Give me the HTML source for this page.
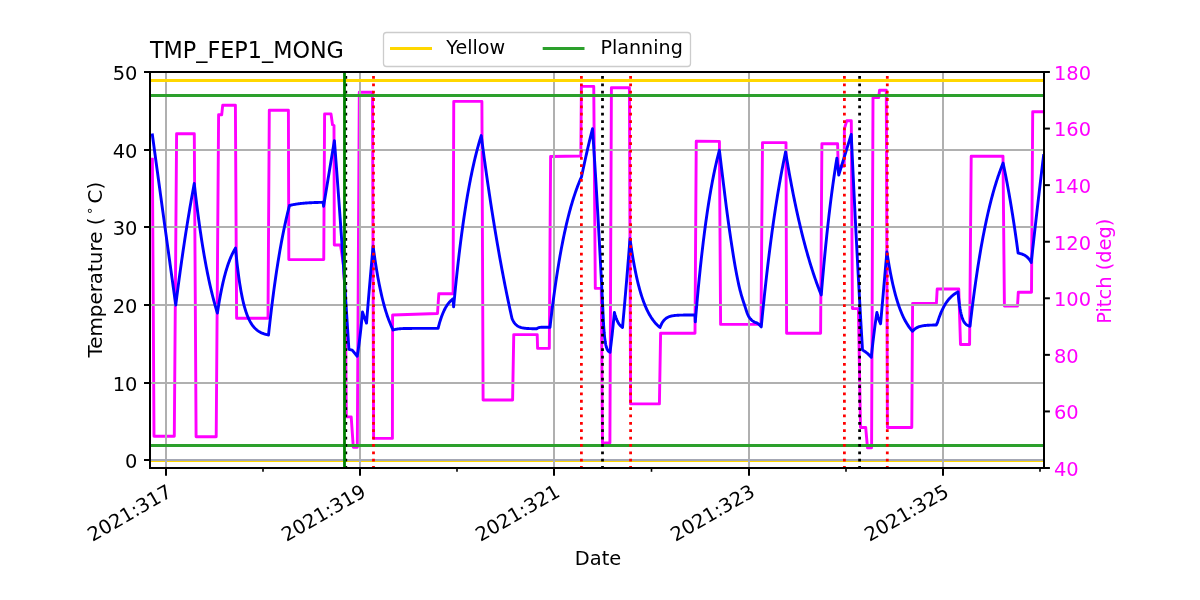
<!DOCTYPE html><html><head><meta charset="utf-8"><title>TMP_FEP1_MONG</title><style>html,body{margin:0;padding:0;background:#fff;overflow:hidden;}svg{display:block;will-change:transform;}text{font-family:'DejaVu Sans', 'Liberation Sans', sans-serif;}</style></head><body>
<svg width="1200" height="600" viewBox="0 0 1200 600">
<rect x="0" y="0" width="1200" height="600" fill="#fff"/>
<defs><clipPath id="ax"><rect x="150" y="72" width="894" height="396"/></clipPath></defs>
<g clip-path="url(#ax)">
<polyline points="152.40,159.30 154.00,436.20 174.30,436.20 176.60,133.80 194.30,133.80 196.10,436.70 216.20,436.70 218.60,114.80 221.70,114.80 222.70,105.30 235.40,105.30 236.60,318.30 268.00,318.30 269.30,110.30 288.40,110.30 288.80,259.60 323.75,259.60 324.60,113.90 331.00,113.90 332.50,124.80 334.00,125.50 334.30,245.00 340.50,245.00 343.50,265.00 345.40,300.00 346.30,416.90 351.20,416.90 353.30,447.20 357.30,447.20 359.30,92.20 372.50,92.20 373.60,438.40 392.40,438.40 392.60,315.00 437.50,313.50 438.80,293.80 453.10,293.80 453.75,101.40 481.90,101.40 483.10,400.00 512.60,400.00 513.75,334.60 537.20,334.60 537.60,348.40 549.30,348.40 550.60,156.50 580.80,156.00 581.40,86.40 593.75,86.40 595.30,288.40 601.30,288.40 602.50,443.00 609.90,443.00 611.40,87.80 629.40,87.80 630.60,403.90 659.40,403.90 660.60,333.30 695.00,333.30 696.25,141.30 719.40,141.40 720.60,324.40 761.00,324.40 762.50,142.60 786.00,142.60 786.60,333.30 820.60,333.30 821.90,143.75 837.60,143.75 838.20,166.20 844.20,166.20 844.40,128.70 846.80,120.70 851.30,120.70 852.40,308.60 858.40,308.60 860.50,427.50 865.70,427.50 867.50,447.80 871.60,447.80 873.00,97.50 878.75,97.50 879.50,90.30 886.30,90.30 887.40,427.50 911.80,427.50 912.60,303.40 936.40,303.40 937.20,289.00 958.75,289.00 960.50,344.50 969.60,344.50 971.20,156.25 1003.00,156.25 1004.40,306.10 1017.50,306.10 1018.30,292.20 1031.50,292.20 1032.70,111.80 1046.00,111.80" fill="none" stroke="#ff00ff" stroke-width="2.9" stroke-linejoin="round" stroke-linecap="square"/>
<line x1="150" y1="460.5" x2="1044" y2="460.5" stroke="#ffd700" stroke-width="3"/>
<line x1="166" y1="72" x2="166" y2="468" stroke="#b0b0b0" stroke-width="2"/>
<line x1="360" y1="72" x2="360" y2="468" stroke="#b0b0b0" stroke-width="2"/>
<line x1="554" y1="72" x2="554" y2="468" stroke="#b0b0b0" stroke-width="2"/>
<line x1="749" y1="72" x2="749" y2="468" stroke="#b0b0b0" stroke-width="2"/>
<line x1="943" y1="72" x2="943" y2="468" stroke="#b0b0b0" stroke-width="2"/>
<line x1="150" y1="460" x2="1044" y2="460" stroke="#a4a7b4" stroke-width="2"/>
<line x1="150" y1="383" x2="1044" y2="383" stroke="#b0b0b0" stroke-width="2"/>
<line x1="150" y1="305" x2="1044" y2="305" stroke="#b0b0b0" stroke-width="2"/>
<line x1="150" y1="227" x2="1044" y2="227" stroke="#b0b0b0" stroke-width="2"/>
<line x1="150" y1="150" x2="1044" y2="150" stroke="#b0b0b0" stroke-width="2"/>
<line x1="150" y1="80.4" x2="1044" y2="80.4" stroke="#ffd700" stroke-width="3"/>
<line x1="150" y1="95.4" x2="1044" y2="95.4" stroke="#2ca02c" stroke-width="3"/>
<line x1="150" y1="445.5" x2="1044" y2="445.5" stroke="#2ca02c" stroke-width="3"/>
<polyline points="152.40,135.00 152.91,138.74 153.42,142.48 153.92,146.22 154.43,149.95 154.94,153.68 155.45,157.42 155.95,161.14 156.46,164.87 156.97,168.60 157.48,172.32 157.98,176.04 158.49,179.76 159.00,183.48 159.51,187.19 160.01,190.90 160.52,194.61 161.03,198.32 161.54,202.03 162.04,205.73 162.55,209.44 163.06,213.14 163.57,216.83 164.07,220.53 164.58,224.23 165.09,227.92 165.60,231.61 166.11,235.30 166.61,238.98 167.12,242.67 167.63,246.35 168.14,250.03 168.64,253.71 169.15,257.39 169.66,261.06 170.17,264.73 170.67,268.40 171.18,272.07 171.69,275.74 172.20,279.40 172.70,283.07 173.21,286.73 173.72,290.39 174.23,294.04 174.73,297.70 175.24,301.35 175.75,305.00 176.25,301.04 176.75,297.12 177.25,293.24 177.75,289.40 178.25,285.61 178.75,281.85 179.25,278.14 179.75,274.47 180.25,270.83 180.75,267.24 181.25,263.68 181.75,260.16 182.25,256.68 182.75,253.24 183.25,249.83 183.75,246.46 184.25,243.13 184.75,239.83 185.25,236.57 185.75,233.34 186.25,230.15 186.75,226.99 187.25,223.87 187.75,220.78 188.25,217.72 188.75,214.70 189.25,211.70 189.75,208.74 190.25,205.82 190.75,202.92 191.25,200.06 191.75,197.22 192.25,194.42 192.75,191.64 193.25,188.90 193.75,186.19 194.25,183.50 194.75,187.95 195.26,192.31 195.76,196.57 196.26,200.74 196.77,204.81 197.27,208.79 197.77,212.69 198.28,216.50 198.78,220.23 199.28,223.87 199.79,227.44 200.29,230.92 200.79,234.33 201.30,237.67 201.80,240.93 202.30,244.11 202.81,247.23 203.31,250.28 203.81,253.26 204.32,256.18 204.82,259.03 205.32,261.82 205.82,264.55 206.33,267.22 206.83,269.83 207.33,272.38 207.84,274.87 208.34,277.32 208.84,279.70 209.35,282.04 209.85,284.32 210.35,286.55 210.86,288.73 211.36,290.87 211.86,292.96 212.37,295.00 212.87,297.00 213.37,298.95 213.88,300.86 214.38,302.73 214.88,304.55 215.39,306.34 215.89,308.09 216.39,309.80 216.90,311.47 217.40,313.10 217.90,309.78 218.41,306.59 218.91,303.52 219.41,300.57 219.91,297.73 220.42,295.01 220.92,292.39 221.42,289.87 221.93,287.45 222.43,285.12 222.93,282.89 223.43,280.74 223.94,278.67 224.44,276.69 224.94,274.78 225.44,272.95 225.95,271.18 226.45,269.49 226.95,267.86 227.46,266.29 227.96,264.79 228.46,263.34 228.96,261.95 229.47,260.62 229.97,259.33 230.47,258.10 230.97,256.91 231.48,255.77 231.98,254.67 232.48,253.62 232.99,252.60 233.49,251.63 233.99,250.70 234.49,249.80 235.00,248.93 235.50,248.10 236.00,253.31 236.50,258.21 237.00,262.82 237.50,267.16 238.00,271.24 238.50,275.09 239.00,278.70 239.50,282.11 240.00,285.32 240.50,288.33 241.00,291.17 241.50,293.85 242.00,296.36 242.50,298.73 243.00,300.96 243.50,303.05 244.00,305.03 244.50,306.89 245.00,308.63 245.50,310.28 246.00,311.83 246.50,313.29 247.00,314.66 247.50,315.95 248.00,317.17 248.50,318.31 249.00,319.39 249.50,320.40 250.00,321.35 250.50,322.25 251.00,323.10 251.50,323.89 252.00,324.64 252.50,325.35 253.00,326.01 253.50,326.63 254.00,327.22 254.50,327.77 255.00,328.29 255.50,328.78 256.00,329.24 256.50,329.68 257.00,330.09 257.50,330.47 258.00,330.83 258.50,331.17 259.00,331.49 259.50,331.79 260.00,332.08 260.50,332.35 261.00,332.60 261.50,332.83 262.00,333.06 262.50,333.27 263.00,333.46 263.50,333.65 264.00,333.82 264.50,333.99 265.00,334.14 265.50,334.29 266.00,334.43 266.50,334.56 267.00,334.68 267.50,334.79 268.00,334.90 268.50,335.00 269.00,330.37 269.50,325.85 270.00,321.41 270.50,317.07 271.00,312.83 271.50,308.67 272.00,304.60 272.50,300.62 273.00,296.72 273.50,292.91 274.00,289.17 274.50,285.52 275.00,281.94 275.50,278.44 276.00,275.01 276.50,271.66 277.00,268.37 277.50,265.16 278.00,262.02 278.50,258.94 279.00,255.92 279.50,252.97 280.00,250.08 280.50,247.26 281.00,244.49 281.50,241.78 282.00,239.13 282.50,236.54 283.00,234.00 283.50,231.52 284.00,229.08 284.50,226.70 285.00,224.37 285.50,222.09 286.00,219.86 286.50,217.67 287.00,215.53 287.50,213.44 288.00,211.39 288.50,209.39 289.00,207.42 289.50,205.50 290.00,205.37 290.50,205.25 291.00,205.13 291.51,205.01 292.01,204.90 292.51,204.80 293.01,204.69 293.51,204.59 294.01,204.50 294.51,204.41 295.02,204.32 295.52,204.23 296.02,204.15 296.52,204.07 297.02,204.00 297.52,203.92 298.03,203.85 298.53,203.79 299.03,203.72 299.53,203.66 300.03,203.60 300.53,203.54 301.03,203.48 301.54,203.43 302.04,203.38 302.54,203.33 303.04,203.28 303.54,203.23 304.04,203.19 304.54,203.14 305.05,203.10 305.55,203.06 306.05,203.02 306.55,202.99 307.05,202.95 307.55,202.92 308.06,202.88 308.56,202.85 309.06,202.82 309.56,202.79 310.06,202.76 310.56,202.74 311.06,202.71 311.57,202.68 312.07,202.66 312.57,202.64 313.07,202.61 313.57,202.59 314.07,202.57 314.57,202.55 315.08,202.53 315.58,202.51 316.08,202.49 316.58,202.48 317.08,202.46 317.58,202.44 318.09,202.43 318.59,202.41 319.09,202.40 319.59,202.38 320.09,202.37 320.59,202.36 321.09,202.35 321.60,202.33 322.10,202.32 322.60,202.31 323.10,202.30 323.60,206.30 334.40,140.60 334.90,147.13 335.40,153.70 335.90,160.32 336.40,166.98 336.90,173.69 337.40,180.44 337.90,187.24 338.40,194.09 338.90,200.99 339.40,207.94 339.90,214.93 340.40,221.97 340.90,229.06 341.40,236.20 341.90,243.38 342.40,250.62 342.90,257.91 343.40,265.25 343.90,272.64 344.40,280.08 344.90,287.57 345.40,295.11 345.90,302.71 346.40,310.36 346.90,318.06 347.40,325.81 347.90,333.62 348.40,341.48 348.90,349.40 352.20,350.20 357.20,356.25 357.73,352.96 358.26,349.45 358.79,345.72 359.32,341.74 359.85,337.51 360.38,333.01 360.91,328.22 361.44,323.11 361.97,317.68 362.50,311.90 363.00,313.43 363.50,314.91 364.00,316.36 364.50,317.78 365.00,319.16 365.50,320.51 366.00,321.82 366.50,323.10 367.01,316.84 367.52,310.64 368.02,304.50 368.53,298.42 369.04,292.40 369.55,286.44 370.05,280.53 370.56,274.68 371.07,268.88 371.58,263.14 372.08,257.46 372.59,251.83 373.10,246.25 373.60,249.97 374.10,253.56 374.60,257.04 375.10,260.41 375.60,263.66 376.10,266.81 376.60,269.86 377.10,272.80 377.60,275.66 378.10,278.41 378.60,281.08 379.10,283.67 379.60,286.16 380.10,288.58 380.60,290.92 381.10,293.18 381.60,295.37 382.10,297.48 382.60,299.53 383.10,301.51 383.60,303.43 384.10,305.28 384.60,307.07 385.10,308.81 385.60,310.49 386.10,312.11 386.60,313.68 387.10,315.20 387.60,316.67 388.10,318.09 388.60,319.47 389.10,320.80 389.60,322.09 390.10,323.33 390.60,324.54 391.10,325.70 391.60,326.83 392.10,327.92 392.60,328.98 393.10,330.00 393.60,329.83 394.10,329.68 394.60,329.55 395.10,329.43 395.60,329.32 396.10,329.22 396.60,329.14 397.10,329.06 397.60,328.99 398.10,328.93 398.60,328.87 399.10,328.82 399.60,328.78 400.10,328.74 400.60,328.70 401.10,328.67 401.60,328.64 402.10,328.62 402.60,328.59 403.10,328.57 403.60,328.56 404.10,328.54 404.60,328.52 405.10,328.51 405.60,328.50 406.10,328.49 406.60,328.48 407.10,328.47 407.60,328.46 408.10,328.46 408.60,328.45 409.10,328.45 409.60,328.44 410.10,328.44 410.60,328.43 411.10,328.43 411.60,328.43 412.10,328.42 412.60,328.42 413.10,328.42 413.60,328.42 414.10,328.41 414.60,328.41 415.10,328.41 415.60,328.41 416.10,328.41 416.60,328.41 417.10,328.41 417.60,328.41 418.10,328.41 418.60,328.41 419.10,328.40 419.60,328.40 420.10,328.40 420.60,328.40 421.10,328.40 421.60,328.40 422.10,328.40 422.60,328.40 423.10,328.40 423.60,328.40 424.10,328.40 424.60,328.40 425.10,328.40 425.60,328.40 426.10,328.40 426.60,328.40 427.10,328.40 427.60,328.40 428.10,328.40 428.60,328.40 429.10,328.40 429.60,328.40 430.10,328.40 430.60,328.40 431.10,328.40 431.60,328.40 432.10,328.40 432.60,328.40 433.10,328.40 433.60,328.40 434.10,328.40 434.60,328.40 435.10,328.40 435.60,328.40 436.10,328.40 436.60,328.40 437.10,328.40 437.60,328.40 438.10,328.40 438.60,326.40 439.10,324.51 439.60,322.73 440.10,321.04 440.60,319.45 441.10,317.94 441.60,316.52 442.10,315.18 442.60,313.91 443.10,312.71 443.60,311.57 444.10,310.50 444.60,309.49 445.10,308.53 445.60,307.63 446.10,306.77 446.60,305.97 447.10,305.20 447.60,304.48 448.10,303.80 448.60,303.16 449.10,302.55 449.60,301.98 450.10,301.43 450.60,300.92 451.10,300.44 451.60,299.98 452.10,299.55 452.60,299.14 453.10,298.75 453.60,306.90 454.10,301.56 454.61,296.33 455.11,291.22 455.61,286.23 456.11,281.34 456.62,276.56 457.12,271.88 457.62,267.31 458.12,262.84 458.63,258.47 459.13,254.19 459.63,250.01 460.14,245.92 460.64,241.92 461.14,238.01 461.64,234.19 462.15,230.45 462.65,226.79 463.15,223.21 463.65,219.71 464.16,216.29 464.66,212.94 465.16,209.67 465.67,206.47 466.17,203.34 466.67,200.28 467.17,197.28 467.68,194.35 468.18,191.49 468.68,188.69 469.18,185.95 469.69,183.27 470.19,180.65 470.69,178.09 471.20,175.59 471.70,173.14 472.20,170.74 472.70,168.40 473.21,166.10 473.71,163.86 474.21,161.67 474.71,159.53 475.22,157.43 475.72,155.38 476.22,153.38 476.73,151.41 477.23,149.50 477.73,147.62 478.23,145.79 478.74,143.99 479.24,142.24 479.74,140.52 480.24,138.85 480.75,137.20 481.25,135.60 481.75,139.48 482.26,143.33 482.76,147.14 483.27,150.91 483.77,154.66 484.27,158.37 484.78,162.04 485.28,165.69 485.79,169.30 486.29,172.88 486.80,176.42 487.30,179.94 487.80,183.42 488.31,186.87 488.81,190.29 489.32,193.68 489.82,197.04 490.32,200.37 490.83,203.67 491.33,206.94 491.84,210.18 492.34,213.39 492.84,216.57 493.35,219.72 493.85,222.85 494.36,225.95 494.86,229.02 495.36,232.06 495.87,235.07 496.37,238.06 496.88,241.02 497.38,243.96 497.89,246.87 498.39,249.75 498.89,252.60 499.40,255.43 499.90,258.24 500.41,261.02 500.91,263.77 501.41,266.50 501.92,269.21 502.42,271.89 502.93,274.55 503.43,277.18 503.93,279.79 504.44,282.38 504.94,284.94 505.45,287.48 505.95,290.00 506.45,292.49 506.96,294.96 507.46,297.41 507.97,299.84 508.47,302.25 508.98,304.63 509.48,307.00 509.98,309.34 510.49,311.66 510.99,313.96 511.50,316.24 512.00,318.50 512.51,319.64 513.02,320.66 513.52,321.56 514.03,322.36 514.54,323.08 515.05,323.71 515.56,324.28 516.07,324.78 516.57,325.22 517.08,325.62 517.59,325.97 518.10,326.28 518.61,326.56 519.11,326.81 519.62,327.03 520.13,327.22 520.64,327.40 521.15,327.55 521.66,327.69 522.16,327.81 522.67,327.92 523.18,328.01 523.69,328.10 524.20,328.17 524.70,328.24 525.21,328.30 525.72,328.36 526.23,328.40 526.74,328.44 527.24,328.48 527.75,328.52 528.26,328.55 528.77,328.57 529.28,328.59 529.79,328.62 530.29,328.63 530.80,328.65 531.31,328.67 531.82,328.68 532.33,328.69 532.83,328.70 533.34,328.71 533.85,328.72 534.36,328.72 534.87,328.73 535.38,328.74 535.88,328.74 536.39,328.75 536.90,328.75 537.40,328.27 537.91,327.95 538.41,327.72 538.92,327.57 539.42,327.47 539.92,327.40 540.43,327.35 540.93,327.32 541.43,327.30 541.94,327.28 542.44,327.27 542.95,327.26 543.45,327.26 543.95,327.26 544.46,327.25 544.96,327.25 545.47,327.25 545.97,327.25 546.47,327.25 546.98,327.25 547.48,327.25 547.98,327.25 548.49,327.25 548.99,327.25 549.50,327.25 550.00,327.25 550.50,322.91 551.00,318.66 551.50,314.50 552.00,310.43 552.50,306.45 553.00,302.55 553.50,298.74 554.00,295.01 554.50,291.36 555.00,287.79 555.50,284.30 556.00,280.88 556.50,277.54 557.00,274.27 557.50,271.07 558.00,267.94 558.50,264.87 559.00,261.88 559.50,258.94 560.00,256.07 560.50,253.27 561.00,250.52 561.50,247.83 562.00,245.20 562.50,242.63 563.00,240.11 563.50,237.65 564.00,235.24 564.50,232.88 565.00,230.57 565.50,228.32 566.00,226.11 566.50,223.95 567.00,221.83 567.50,219.76 568.00,217.74 568.50,215.76 569.00,213.82 569.50,211.93 570.00,210.07 570.50,208.26 571.00,206.48 571.50,204.75 572.00,203.05 572.50,201.38 573.00,199.76 573.50,198.16 574.00,196.61 574.50,195.08 575.00,193.59 575.50,192.13 576.00,190.71 576.50,189.31 577.00,187.94 577.50,186.61 578.00,185.30 578.50,184.02 579.00,182.77 579.50,181.54 580.00,180.34 580.50,179.17 581.00,178.02 581.50,176.90 582.00,174.50 582.50,172.11 583.00,169.75 583.50,167.41 584.00,165.10 584.50,162.80 585.00,160.52 585.50,158.27 586.00,156.03 586.50,153.82 587.00,151.62 587.50,149.45 588.00,147.29 588.50,145.16 589.00,143.04 589.50,140.94 590.00,138.86 590.50,136.80 591.00,134.76 591.50,132.74 592.00,130.74 592.50,128.75 593.00,136.26 593.51,143.89 594.01,151.64 594.52,159.52 595.02,167.52 595.53,175.65 596.03,183.92 596.54,192.31 597.04,200.84 597.55,209.51 598.05,218.31 598.55,227.26 599.06,236.35 599.56,245.58 600.07,254.97 600.57,264.50 601.08,274.19 601.58,284.03 602.09,294.03 602.59,304.19 603.10,314.51 603.60,325.00 604.13,332.24 604.67,337.61 605.20,341.60 605.73,344.56 606.27,346.75 606.80,348.39 607.33,349.60 607.87,350.50 608.40,351.16 608.93,351.66 609.47,352.03 610.00,352.30 610.55,348.00 611.10,343.53 611.65,338.87 612.20,334.01 612.75,328.96 613.30,323.69 613.85,318.21 614.40,312.50 614.91,314.38 615.41,316.07 615.92,317.58 616.42,318.93 616.93,320.15 617.44,321.24 617.94,322.21 618.45,323.09 618.96,323.87 619.46,324.57 619.97,325.20 620.48,325.77 620.98,326.27 621.49,326.73 621.99,327.14 622.50,327.50 623.00,321.99 623.50,316.42 624.00,310.80 624.50,305.12 625.00,299.38 625.50,293.59 626.00,287.74 626.50,281.83 627.00,275.85 627.50,269.82 628.00,263.73 628.50,257.58 629.00,251.37 629.50,245.09 630.00,238.75 630.50,242.34 631.00,245.81 631.50,249.15 632.00,252.37 632.50,255.47 633.00,258.46 633.50,261.34 634.00,264.12 634.50,266.80 635.00,269.39 635.50,271.88 636.00,274.28 636.50,276.59 637.00,278.82 637.50,280.97 638.00,283.05 638.50,285.05 639.00,286.97 639.50,288.83 640.00,290.62 640.50,292.35 641.00,294.01 641.50,295.61 642.00,297.16 642.50,298.65 643.00,300.09 643.50,301.47 644.00,302.81 644.50,304.09 645.00,305.34 645.50,306.53 646.00,307.68 646.50,308.80 647.00,309.87 647.50,310.90 648.00,311.90 648.50,312.86 649.00,313.78 649.50,314.67 650.00,315.53 650.50,316.36 651.00,317.16 651.50,317.93 652.00,318.67 652.50,319.39 653.00,320.08 653.50,320.75 654.00,321.39 654.50,322.01 655.00,322.60 655.50,323.18 656.00,323.73 656.50,324.26 657.00,324.78 657.50,325.27 658.00,325.75 658.50,326.21 659.00,326.66 659.50,327.09 660.00,327.50 660.50,326.21 661.00,325.06 661.50,324.02 662.00,323.09 662.50,322.26 663.00,321.51 663.50,320.84 664.00,320.24 664.50,319.70 665.00,319.22 665.50,318.78 666.00,318.39 666.50,318.04 667.00,317.73 667.50,317.45 668.00,317.20 668.50,316.97 669.00,316.77 669.50,316.58 670.00,316.42 670.50,316.27 671.00,316.14 671.50,316.02 672.00,315.92 672.50,315.82 673.00,315.74 673.50,315.66 674.00,315.59 674.50,315.53 675.00,315.48 675.50,315.43 676.00,315.38 676.50,315.34 677.00,315.31 677.50,315.27 678.00,315.24 678.50,315.22 679.00,315.20 679.50,315.17 680.00,315.16 680.50,315.14 681.00,315.12 681.50,315.11 682.00,315.10 682.50,315.09 683.00,315.08 683.50,315.07 684.00,315.06 684.50,315.05 685.00,315.05 685.50,315.04 686.00,315.04 686.50,315.03 687.00,315.03 687.50,315.03 688.00,315.02 688.50,315.02 689.00,315.02 689.50,315.01 690.00,315.01 690.50,315.01 691.00,315.01 691.50,315.01 692.00,315.01 692.50,315.00 693.00,315.00 693.50,315.00 694.00,315.00 694.50,315.00 695.00,315.00 695.30,321.90 695.80,315.89 696.30,310.03 696.81,304.31 697.31,298.73 697.81,293.28 698.31,287.97 698.81,282.78 699.32,277.72 699.82,272.78 700.32,267.96 700.82,263.26 701.32,258.67 701.83,254.19 702.33,249.82 702.83,245.56 703.33,241.40 703.84,237.34 704.34,233.37 704.84,229.51 705.34,225.73 705.84,222.05 706.35,218.46 706.85,214.95 707.35,211.53 707.85,208.19 708.35,204.94 708.86,201.76 709.36,198.66 709.86,195.63 710.36,192.68 710.86,189.79 711.37,186.98 711.87,184.24 712.37,181.56 712.87,178.94 713.38,176.39 713.88,173.91 714.38,171.48 714.88,169.11 715.38,166.80 715.89,164.54 716.39,162.34 716.89,160.19 717.39,158.09 717.89,156.05 718.40,154.05 718.90,152.10 719.40,150.20 719.90,154.45 720.41,158.68 720.91,162.89 721.42,167.07 721.92,171.24 722.43,175.38 722.93,179.49 723.43,183.58 723.94,187.68 724.44,191.78 724.95,195.86 725.45,199.92 725.95,203.93 726.46,207.89 726.96,211.77 727.47,215.56 727.97,219.27 728.48,222.93 728.98,226.53 729.48,230.07 729.99,233.56 730.49,237.00 731.00,240.38 731.50,243.70 732.01,246.98 732.51,250.24 733.01,253.47 733.52,256.65 734.02,259.76 734.53,262.80 735.03,265.74 735.53,268.56 736.04,271.27 736.54,273.93 737.05,276.52 737.55,279.05 738.06,281.49 738.56,283.85 739.06,286.11 739.57,288.26 740.07,290.29 740.58,292.21 741.08,294.05 741.59,295.82 742.09,297.52 742.59,299.16 743.10,300.75 743.60,302.31 744.11,303.83 744.61,305.33 745.12,306.86 745.62,308.43 746.12,309.98 746.63,311.49 747.13,312.93 747.64,314.25 748.14,315.43 748.64,316.43 749.15,317.21 749.65,317.90 750.16,318.53 750.66,319.10 751.17,319.63 751.67,320.10 752.17,320.54 752.68,320.93 753.18,321.29 753.69,321.61 754.19,321.89 754.70,322.12 755.20,322.33 755.70,322.52 756.21,322.72 756.71,322.92 757.22,323.15 757.72,323.43 758.22,323.75 758.73,324.15 759.23,324.61 759.74,325.13 760.24,325.69 760.75,326.28 761.25,326.90 761.76,321.65 762.26,316.48 762.77,311.40 763.28,306.40 763.79,301.49 764.29,296.66 764.80,291.91 765.31,287.23 765.82,282.63 766.32,278.11 766.83,273.67 767.34,269.29 767.84,264.99 768.35,260.76 768.86,256.60 769.37,252.51 769.87,248.49 770.38,244.53 770.89,240.64 771.40,236.82 771.90,233.05 772.41,229.35 772.92,225.71 773.42,222.13 773.93,218.61 774.44,215.15 774.95,211.74 775.45,208.39 775.96,205.10 776.47,201.86 776.98,198.67 777.48,195.54 777.99,192.46 778.50,189.43 779.01,186.45 779.51,183.52 780.02,180.63 780.53,177.80 781.03,175.01 781.54,172.27 782.05,169.57 782.56,166.92 783.06,164.31 783.57,161.74 784.08,159.22 784.59,156.74 785.09,154.30 785.60,151.90 786.10,154.94 786.60,157.94 787.11,160.90 787.61,163.82 788.11,166.71 788.61,169.56 789.11,172.38 789.62,175.15 790.12,177.90 790.62,180.61 791.12,183.28 791.63,185.93 792.13,188.54 792.63,191.11 793.13,193.66 793.63,196.17 794.14,198.65 794.64,201.10 795.14,203.51 795.64,205.90 796.14,208.26 796.65,210.58 797.15,212.88 797.65,215.15 798.15,217.39 798.65,219.61 799.16,221.79 799.66,223.95 800.16,226.08 800.66,228.18 801.17,230.26 801.67,232.31 802.17,234.33 802.67,236.33 803.17,238.30 803.68,240.25 804.18,242.18 804.68,244.08 805.18,245.96 805.68,247.81 806.19,249.64 806.69,251.44 807.19,253.23 807.69,254.99 808.20,256.73 808.70,258.44 809.20,260.14 809.70,261.81 810.20,263.47 810.71,265.10 811.21,266.71 811.71,268.30 812.21,269.87 812.71,271.42 813.22,272.96 813.72,274.47 814.22,275.96 814.72,277.44 815.22,278.89 815.73,280.33 816.23,281.75 816.73,283.15 817.23,284.54 817.74,285.90 818.24,287.25 818.74,288.59 819.24,289.90 819.74,291.20 820.25,292.48 820.75,293.75 821.25,295.00 821.75,288.93 822.26,282.99 822.76,277.19 823.27,271.51 823.77,265.97 824.28,260.54 824.78,255.24 825.29,250.06 825.79,244.99 826.30,240.03 826.80,235.19 827.31,230.45 827.81,225.82 828.32,221.29 828.82,216.87 829.33,212.54 829.83,208.31 830.34,204.17 830.84,200.13 831.35,196.18 831.85,192.31 832.36,188.53 832.86,184.84 833.37,181.22 833.87,177.69 834.38,174.24 834.88,170.87 835.39,167.57 835.89,164.34 836.40,161.18 836.90,158.10 838.75,175.00 851.25,134.40 851.76,145.54 852.27,156.54 852.78,167.40 853.30,178.13 853.81,188.73 854.32,199.19 854.83,209.53 855.34,219.74 855.85,229.81 856.36,239.77 856.88,249.60 857.39,259.31 857.90,268.90 858.41,278.36 858.92,287.72 859.43,296.95 859.94,306.07 860.45,315.08 860.97,323.97 861.48,332.76 861.99,341.43 862.50,350.00 863.02,350.30 863.54,350.62 864.05,350.95 864.57,351.29 865.09,351.65 865.61,352.02 866.12,352.41 866.64,352.81 867.16,353.23 867.68,353.67 868.19,354.13 868.71,354.60 869.23,355.10 869.75,355.61 870.26,356.15 870.78,356.72 871.30,357.30 871.81,352.40 872.32,347.68 872.83,343.14 873.34,338.77 873.85,334.57 874.35,330.53 874.86,326.64 875.37,322.90 875.88,319.30 876.39,315.83 876.90,312.50 877.43,314.73 877.96,316.71 878.49,318.46 879.01,320.03 879.54,321.42 880.07,322.65 880.60,323.75 881.12,317.69 881.65,311.65 882.17,305.62 882.70,299.60 883.23,293.59 883.75,287.60 884.27,281.62 884.80,275.65 885.33,269.69 885.85,263.75 886.38,257.82 886.90,251.90 887.40,255.20 887.90,258.38 888.41,261.45 888.91,264.42 889.41,267.28 889.91,270.04 890.41,272.71 890.92,275.29 891.42,277.77 891.92,280.17 892.42,282.49 892.92,284.72 893.43,286.88 893.93,288.96 894.43,290.98 894.93,292.92 895.43,294.79 895.94,296.60 896.44,298.35 896.94,300.03 897.44,301.66 897.94,303.23 898.45,304.75 898.95,306.21 899.45,307.63 899.95,308.99 900.45,310.31 900.95,311.58 901.46,312.81 901.96,313.99 902.46,315.13 902.96,316.24 903.46,317.30 903.97,318.33 904.47,319.32 904.97,320.28 905.47,321.21 905.97,322.10 906.48,322.96 906.98,323.80 907.48,324.60 907.98,325.37 908.48,326.12 908.99,326.85 909.49,327.54 909.99,328.22 910.49,328.87 910.99,329.49 911.50,330.10 912.00,330.69 912.50,331.25 913.01,330.67 913.51,330.14 914.02,329.66 914.52,329.23 915.03,328.84 915.53,328.48 916.04,328.15 916.54,327.86 917.05,327.59 917.55,327.34 918.06,327.12 918.56,326.92 919.07,326.74 919.57,326.57 920.08,326.42 920.59,326.29 921.09,326.16 921.60,326.05 922.10,325.95 922.61,325.85 923.11,325.77 923.62,325.69 924.12,325.62 924.63,325.56 925.13,325.50 925.64,325.45 926.14,325.40 926.65,325.36 927.15,325.32 927.66,325.28 928.16,325.25 928.67,325.22 929.18,325.20 929.68,325.17 930.19,325.15 930.69,325.13 931.20,325.11 931.70,325.09 932.21,325.08 932.71,325.07 933.22,325.05 933.72,325.04 934.23,325.03 934.73,325.02 935.24,325.01 935.74,325.01 936.25,325.00 937.50,322.50 938.00,320.90 938.50,319.37 939.00,317.90 939.50,316.50 940.00,315.17 940.50,313.89 941.00,312.67 941.50,311.50 942.00,310.38 942.50,309.31 943.00,308.29 943.50,307.32 944.00,306.39 944.50,305.50 945.00,304.64 945.50,303.83 946.00,303.05 946.50,302.31 947.00,301.60 947.50,300.92 948.00,300.27 948.50,299.65 949.00,299.05 949.50,298.49 950.00,297.94 950.50,297.42 951.00,296.93 951.50,296.45 952.00,296.00 952.50,295.57 953.00,295.16 953.50,294.76 954.00,294.38 954.50,294.02 955.00,293.68 955.50,293.34 956.00,293.03 956.50,292.73 957.00,292.44 957.50,292.16 958.00,291.90 958.50,297.07 959.00,301.48 959.50,305.25 960.00,308.45 960.50,311.19 961.00,313.52 961.50,315.51 962.00,317.20 962.50,318.65 963.00,319.88 963.50,320.93 964.00,321.83 964.50,322.59 965.00,323.24 965.50,323.80 966.00,324.27 966.50,324.68 967.00,325.02 967.50,325.32 968.00,325.57 968.50,325.78 969.00,325.96 969.50,326.12 970.00,326.25 970.50,321.92 971.00,317.67 971.50,313.50 972.01,309.41 972.51,305.40 973.01,301.47 973.51,297.61 974.01,293.83 974.51,290.12 975.02,286.48 975.52,282.90 976.02,279.40 976.52,275.97 977.02,272.60 977.52,269.29 978.02,266.05 978.53,262.87 979.03,259.75 979.53,256.69 980.03,253.69 980.53,250.74 981.03,247.86 981.53,245.03 982.04,242.25 982.54,239.52 983.04,236.85 983.54,234.23 984.04,231.66 984.54,229.13 985.05,226.66 985.55,224.23 986.05,221.85 986.55,219.52 987.05,217.23 987.55,214.98 988.05,212.78 988.56,210.62 989.06,208.50 989.56,206.42 990.06,204.38 990.56,202.38 991.06,200.42 991.57,198.49 992.07,196.61 992.57,194.75 993.07,192.94 993.57,191.16 994.07,189.41 994.57,187.70 995.08,186.01 995.58,184.37 996.08,182.75 996.58,181.16 997.08,179.61 997.58,178.08 998.08,176.58 998.59,175.11 999.09,173.67 999.59,172.26 1000.09,170.88 1000.59,169.52 1001.09,168.18 1001.60,166.88 1002.10,165.59 1002.60,164.33 1003.10,163.10 1003.60,165.46 1004.10,167.86 1004.60,170.30 1005.10,172.78 1005.60,175.29 1006.10,177.85 1006.60,180.45 1007.10,183.09 1007.60,185.77 1008.10,188.49 1008.60,191.26 1009.10,194.07 1009.60,196.93 1010.10,199.83 1010.60,202.78 1011.10,205.78 1011.60,208.82 1012.10,211.91 1012.60,215.05 1013.10,218.25 1013.60,221.49 1014.10,224.78 1014.60,228.13 1015.10,231.53 1015.60,234.98 1016.10,238.49 1016.60,242.06 1017.10,245.68 1017.60,249.36 1018.10,253.10 1018.61,253.19 1019.11,253.29 1019.62,253.40 1020.12,253.53 1020.63,253.66 1021.13,253.80 1021.64,253.96 1022.15,254.14 1022.65,254.33 1023.16,254.54 1023.66,254.77 1024.17,255.02 1024.67,255.30 1025.18,255.60 1025.69,255.93 1026.19,256.29 1026.70,256.69 1027.20,257.13 1027.71,257.60 1028.22,258.13 1028.72,258.70 1029.23,259.33 1029.73,260.02 1030.24,260.77 1030.74,261.60 1031.25,262.50 1031.76,257.77 1032.28,253.06 1032.79,248.38 1033.31,243.73 1033.82,239.09 1034.34,234.48 1034.85,229.90 1035.37,225.34 1035.88,220.80 1036.40,216.29 1036.91,211.80 1037.42,207.33 1037.94,202.88 1038.45,198.46 1038.97,194.07 1039.48,189.69 1040.00,185.34 1040.51,181.01 1041.03,176.70 1041.54,172.42 1042.06,168.16 1042.57,163.91 1043.09,159.70 1043.60,155.50" fill="none" stroke="#0000ff" stroke-width="2.9" stroke-linejoin="round" stroke-linecap="square"/>
<line x1="373.5" y1="468" x2="373.5" y2="72" stroke="#ff0000" stroke-width="2.77" stroke-dasharray="2.77 4.59" stroke-dashoffset="0.88"/>
<line x1="581.4" y1="468" x2="581.4" y2="72" stroke="#ff0000" stroke-width="2.77" stroke-dasharray="2.77 4.59" stroke-dashoffset="0.88"/>
<line x1="630.6" y1="468" x2="630.6" y2="72" stroke="#ff0000" stroke-width="2.77" stroke-dasharray="2.77 4.59" stroke-dashoffset="0.88"/>
<line x1="844.4" y1="468" x2="844.4" y2="72" stroke="#ff0000" stroke-width="2.77" stroke-dasharray="2.77 4.59" stroke-dashoffset="0.88"/>
<line x1="887.3" y1="468" x2="887.3" y2="72" stroke="#ff0000" stroke-width="2.77" stroke-dasharray="2.77 4.59" stroke-dashoffset="0.88"/>
<line x1="345.8" y1="468" x2="345.8" y2="72" stroke="#000000" stroke-width="2.77" stroke-dasharray="2.77 4.59" stroke-dashoffset="0.88"/>
<line x1="602.5" y1="468" x2="602.5" y2="72" stroke="#000000" stroke-width="2.77" stroke-dasharray="2.77 4.59" stroke-dashoffset="0.88"/>
<line x1="859.6" y1="468" x2="859.6" y2="72" stroke="#000000" stroke-width="2.77" stroke-dasharray="2.77 4.59" stroke-dashoffset="0.88"/>
<line x1="344.5" y1="468" x2="344.5" y2="72" stroke="#008000" stroke-width="2.8"/>
</g>
<rect x="150" y="72" width="894" height="396" fill="none" stroke="#000" stroke-width="2"/>
<line x1="144" y1="460" x2="150" y2="460" stroke="#000" stroke-width="2"/>
<text x="137.4" y="467.8" font-size="19.44" text-anchor="end">0</text>
<line x1="144" y1="383" x2="150" y2="383" stroke="#000" stroke-width="2"/>
<text x="137.4" y="390.8" font-size="19.44" text-anchor="end">10</text>
<line x1="144" y1="305" x2="150" y2="305" stroke="#000" stroke-width="2"/>
<text x="137.4" y="312.8" font-size="19.44" text-anchor="end">20</text>
<line x1="144" y1="227" x2="150" y2="227" stroke="#000" stroke-width="2"/>
<text x="137.4" y="234.8" font-size="19.44" text-anchor="end">30</text>
<line x1="144" y1="150" x2="150" y2="150" stroke="#000" stroke-width="2"/>
<text x="137.4" y="157.8" font-size="19.44" text-anchor="end">40</text>
<line x1="144" y1="72" x2="150" y2="72" stroke="#000" stroke-width="2"/>
<text x="137.4" y="79.8" font-size="19.44" text-anchor="end">50</text>
<line x1="1044" y1="468" x2="1049.9" y2="468" stroke="#000" stroke-width="2"/>
<text x="1054" y="475.8" font-size="19.44" fill="#ff00ff">40</text>
<line x1="1044" y1="411.429" x2="1049.9" y2="411.429" stroke="#000" stroke-width="2"/>
<text x="1054" y="419.229" font-size="19.44" fill="#ff00ff">60</text>
<line x1="1044" y1="354.857" x2="1049.9" y2="354.857" stroke="#000" stroke-width="2"/>
<text x="1054" y="362.657" font-size="19.44" fill="#ff00ff">80</text>
<line x1="1044" y1="298.286" x2="1049.9" y2="298.286" stroke="#000" stroke-width="2"/>
<text x="1054" y="306.086" font-size="19.44" fill="#ff00ff">100</text>
<line x1="1044" y1="241.714" x2="1049.9" y2="241.714" stroke="#000" stroke-width="2"/>
<text x="1054" y="249.514" font-size="19.44" fill="#ff00ff">120</text>
<line x1="1044" y1="185.143" x2="1049.9" y2="185.143" stroke="#000" stroke-width="2"/>
<text x="1054" y="192.943" font-size="19.44" fill="#ff00ff">140</text>
<line x1="1044" y1="128.571" x2="1049.9" y2="128.571" stroke="#000" stroke-width="2"/>
<text x="1054" y="136.371" font-size="19.44" fill="#ff00ff">160</text>
<line x1="1044" y1="72" x2="1049.9" y2="72" stroke="#000" stroke-width="2"/>
<text x="1054" y="79.8" font-size="19.44" fill="#ff00ff">180</text>
<line x1="166" y1="468" x2="166" y2="475.8" stroke="#000" stroke-width="2"/>
<line x1="360" y1="468" x2="360" y2="475.8" stroke="#000" stroke-width="2"/>
<line x1="554" y1="468" x2="554" y2="475.8" stroke="#000" stroke-width="2"/>
<line x1="749" y1="468" x2="749" y2="475.8" stroke="#000" stroke-width="2"/>
<line x1="943" y1="468" x2="943" y2="475.8" stroke="#000" stroke-width="2"/>
<line x1="263" y1="468" x2="263" y2="471.8" stroke="#000" stroke-width="1.6"/>
<line x1="457" y1="468" x2="457" y2="471.8" stroke="#000" stroke-width="1.6"/>
<line x1="651.5" y1="468" x2="651.5" y2="471.8" stroke="#000" stroke-width="1.6"/>
<line x1="846" y1="468" x2="846" y2="471.8" stroke="#000" stroke-width="1.6"/>
<line x1="1040" y1="468" x2="1040" y2="471.8" stroke="#000" stroke-width="1.6"/>
<text transform="translate(166,483) rotate(-30)" font-size="19.44" text-anchor="end" dominant-baseline="hanging">2021:317</text>
<text transform="translate(360,483) rotate(-30)" font-size="19.44" text-anchor="end" dominant-baseline="hanging">2021:319</text>
<text transform="translate(554,483) rotate(-30)" font-size="19.44" text-anchor="end" dominant-baseline="hanging">2021:321</text>
<text transform="translate(749,483) rotate(-30)" font-size="19.44" text-anchor="end" dominant-baseline="hanging">2021:323</text>
<text transform="translate(943,483) rotate(-30)" font-size="19.44" text-anchor="end" dominant-baseline="hanging">2021:325</text>
<text x="598" y="565" font-size="19.44" text-anchor="middle">Date</text>
<text transform="translate(102.2,357.6) rotate(-90)" font-size="19.9">Temperature (<tspan font-size="13.6" dy="-8" dx="2.5">&#8728;</tspan><tspan dy="8" dx="3.0">C)</tspan></text>
<text transform="translate(1111.3,271.2) rotate(-90)" font-size="19.44" text-anchor="middle" fill="#ff00ff">Pitch (deg)</text>
<text x="150" y="57.9" font-size="22.3">TMP_FEP1_MONG</text>
<rect x="383.5" y="32.5" width="307" height="34" rx="3" ry="3" fill="#fff" fill-opacity="0.8" stroke="#cccccc" stroke-width="1.3"/>
<line x1="390" y1="48.4" x2="432" y2="48.4" stroke="#ffd700" stroke-width="3"/>
<text x="446.3" y="54.1" font-size="19.1">Yellow</text>
<line x1="542.7" y1="48.4" x2="584.5" y2="48.4" stroke="#2ca02c" stroke-width="3"/>
<text x="600.5" y="54.1" font-size="19.1">Planning</text>
</svg></body></html>
